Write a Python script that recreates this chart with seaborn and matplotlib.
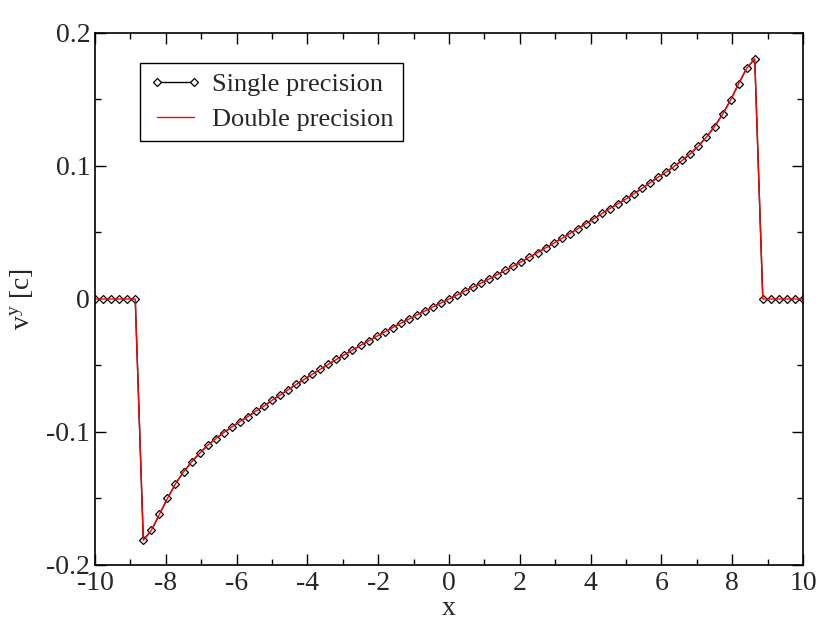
import matplotlib
matplotlib.use("Agg")
import matplotlib.pyplot as plt
import seaborn as sns
import pandas as pd
from matplotlib.ticker import MultipleLocator

# ----------------------------
# Daten
# ----------------------------
x_pos = [
    -10.000, -9.773, -9.545, -9.318, -9.091, -8.864, -8.636, -8.409, -8.182, -7.955,
    -7.727, -7.500, -7.273, -7.045, -6.818, -6.591, -6.364, -6.136, -5.909, -5.682,
    -5.455, -5.227, -5.000, -4.773, -4.545, -4.318, -4.091, -3.864, -3.636, -3.409,
    -3.182, -2.955, -2.727, -2.500, -2.273, -2.045, -1.818, -1.591, -1.364, -1.136,
    -0.909, -0.682, -0.455, -0.227, 0.000, 0.227, 0.455, 0.682, 0.909, 1.136,
    1.364, 1.591, 1.818, 2.045, 2.273, 2.500, 2.727, 2.955, 3.182, 3.409,
    3.636, 3.864, 4.091, 4.318, 4.545, 4.773, 5.000, 5.227, 5.455, 5.682,
    5.909, 6.136, 6.364, 6.591, 6.818, 7.045, 7.273, 7.500, 7.727, 7.955,
    8.182, 8.409, 8.636, 8.864, 9.091, 9.318, 9.545, 9.773, 10.000,
]

v_single = [
    0.0, 0.0, 0.0, 0.0, 0.0, 0.0, -0.1814, -0.1740, -0.1620, -0.1500,
    -0.1390, -0.1300, -0.1226, -0.1160, -0.1100, -0.1050, -0.1005, -0.0962, -0.0922, -0.0885,
    -0.0842, -0.0805, -0.0762, -0.0722, -0.0682, -0.0643, -0.0604, -0.0566, -0.0528, -0.0491,
    -0.0455, -0.0419, -0.0384, -0.0349, -0.0315, -0.0281, -0.0248, -0.0215, -0.0183, -0.0151,
    -0.0120, -0.0090, -0.0060, -0.0030, 0.0000, 0.0030, 0.0060, 0.0090, 0.0120, 0.0151,
    0.0183, 0.0215, 0.0248, 0.0281, 0.0315, 0.0349, 0.0384, 0.0419, 0.0455, 0.0491,
    0.0528, 0.0566, 0.0604, 0.0643, 0.0680, 0.0717, 0.0752, 0.0792, 0.0832, 0.0875,
    0.0917, 0.0955, 0.0998, 0.1043, 0.1093, 0.1150, 0.1218, 0.1296, 0.1389, 0.1496,
    0.1620, 0.1734, 0.1807, 0.0, 0.0, 0.0, 0.0, 0.0, 0.0,
]
# Doppelte Genauigkeit: im Bild nicht von Single zu unterscheiden
v_double = list(v_single)

x_ticks = [-10, -8, -6, -4, -2, 0, 2, 4, 6, 8, 10]
x_ticklabels = ["-10", "-8", "-6", "-4", "-2", "0", "2", "4", "6", "8", "10"]
y_ticks = [-0.2, -0.1, 0.0, 0.1, 0.2]
y_ticklabels = ["-0.2", "-0.1", "0", "0.1", "0.2"]

# ----------------------------
# Plot
# ----------------------------
sns.set_style("ticks")
plt.rcParams["font.family"] = ["Liberation Serif", "DejaVu Serif"]
plt.rcParams["mathtext.fontset"] = "custom"
plt.rcParams["mathtext.rm"] = "Liberation Serif"
plt.rcParams["mathtext.it"] = "Liberation Serif"
plt.rcParams["axes.unicode_minus"] = False

df = pd.DataFrame({"x": x_pos, "single": v_single, "double": v_double})

fig = plt.figure(figsize=(8.30, 6.42), dpi=100)
ax = fig.add_axes([0.1145, 0.12, 0.853, 0.8286])

sns.lineplot(data=df, x="x", y="single", ax=ax, color="black", linewidth=1.0,
             marker="D", markersize=4, markerfacecolor="white",
             markeredgecolor="black", markeredgewidth=0.9,
             sort=False, estimator=None, label="Single precision")
sns.lineplot(data=df, x="x", y="double", ax=ax, color="red", linewidth=1.0,
             sort=False, estimator=None, label="Double precision")

ax.set_xlim(-10, 10)
ax.set_ylim(-0.2, 0.2)
ax.set_xticks(x_ticks)
ax.set_xticklabels(x_ticklabels)
ax.set_yticks(y_ticks)
ax.set_yticklabels(y_ticklabels)
ax.xaxis.set_minor_locator(MultipleLocator(1))
ax.yaxis.set_minor_locator(MultipleLocator(0.05))
ax.tick_params(which="both", direction="in", top=True, right=True,
               labelsize=20, width=1.0, color="black")
ax.tick_params(which="major", length=8)
ax.tick_params(which="minor", length=4.5)
ax.tick_params(axis="x", pad=4)
for sp in ax.spines.values():
    sp.set_linewidth(1.2)
    sp.set_color("black")

ax.set_xlabel("x", fontsize=20, labelpad=0)
ax.set_ylabel(r"v$^{\mathrm{y}}$ [c]", fontsize=20, labelpad=8)

leg = ax.legend(loc="upper left", bbox_to_anchor=(0.063, 0.943), fontsize=19,
                frameon=True, fancybox=False, framealpha=1, edgecolor="black",
                numpoints=2, handlelength=2.0, handletextpad=0.4,
                borderpad=0.35, labelspacing=0.45, borderaxespad=0)
leg.get_frame().set_linewidth(1.0)

fig.savefig("out.png", dpi=100)
